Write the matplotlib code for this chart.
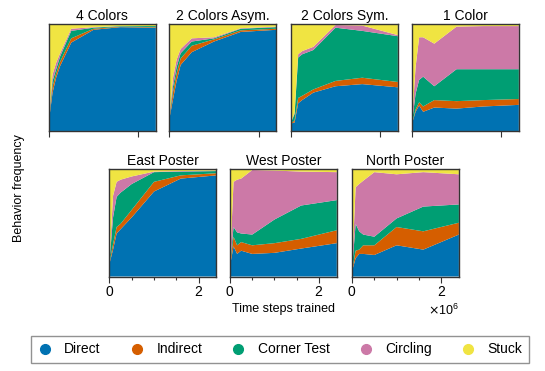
import matplotlib.pyplot as plt
import numpy as np
from matplotlib.lines import Line2D

plt.rcParams['font.family'] = ['Liberation Sans', 'DejaVu Sans']

## time steps where the agent was evaluated
t_steps = np.array([0, 0.08, 0.16, 0.25, 0.5, 1.0, 1.6, 2.4]) * 1e6

behaviors = ['Direct', 'Indirect', 'Corner Test', 'Circling', 'Stuck']
colors = ['#0072B2', '#D55E00', '#009E73', '#CC79A7', '#F0E442']

titles = ['4 Colors', '2 Colors Asym.', '2 Colors Sym.', '1 Color',
          'East Poster', 'West Poster', 'North Poster']

## cumulative tops of Direct, Indirect, Corner Test, Circling (Stuck fills up to 1)
cum_4col = [[0.10, 0.36, 0.50, 0.61, 0.83, 0.95, 0.975, 0.97],
            [0.11, 0.42, 0.54, 0.65, 0.87, 0.96, 0.980, 0.975],
            [0.12, 0.47, 0.58, 0.70, 0.94, 0.97, 0.985, 0.985],
            [0.13, 0.53, 0.64, 0.73, 0.96, 0.975, 0.985, 0.985]]
cum_2asym = [[0.12, 0.30, 0.47, 0.62, 0.74, 0.84, 0.93, 0.95],
             [0.13, 0.37, 0.54, 0.68, 0.80, 0.86, 0.945, 0.96],
             [0.14, 0.42, 0.60, 0.73, 0.84, 0.87, 0.96, 0.975],
             [0.15, 0.50, 0.67, 0.77, 0.87, 0.88, 0.965, 0.98]]
cum_2sym = [[0.07, 0.08, 0.26, 0.29, 0.36, 0.42, 0.44, 0.41],
            [0.075, 0.10, 0.31, 0.33, 0.39, 0.47, 0.50, 0.46],
            [0.08, 0.16, 0.69, 0.72, 0.76, 0.97, 0.94, 0.89],
            [0.085, 0.17, 0.72, 0.75, 0.79, 0.995, 0.99, 0.90]]
cum_1col = [[0.07, 0.18, 0.24, 0.18, 0.22, 0.21, 0.23, 0.245],
            [0.075, 0.20, 0.27, 0.23, 0.29, 0.28, 0.29, 0.30],
            [0.08, 0.35, 0.48, 0.51, 0.42, 0.58, 0.58, 0.58],
            [0.09, 0.60, 0.88, 0.88, 0.82, 0.98, 0.985, 0.985]]
cum_east = [[0.12, 0.25, 0.40, 0.44, 0.55, 0.79, 0.91, 0.94],
            [0.13, 0.30, 0.46, 0.49, 0.62, 0.88, 0.94, 0.96],
            [0.14, 0.55, 0.74, 0.78, 0.86, 0.97, 0.975, 0.98],
            [0.15, 0.75, 0.88, 0.90, 0.93, 0.975, 0.98, 0.985]]
cum_west = [[0.10, 0.28, 0.21, 0.24, 0.21, 0.22, 0.26, 0.31],
            [0.11, 0.37, 0.29, 0.32, 0.29, 0.31, 0.35, 0.43],
            [0.12, 0.46, 0.41, 0.40, 0.39, 0.53, 0.66, 0.71],
            [0.13, 0.88, 0.90, 0.91, 0.99, 0.985, 0.975, 0.97]]
cum_north = [[0.05, 0.17, 0.21, 0.21, 0.20, 0.29, 0.25, 0.39],
             [0.06, 0.24, 0.25, 0.29, 0.29, 0.46, 0.42, 0.50],
             [0.07, 0.49, 0.42, 0.39, 0.37, 0.54, 0.65, 0.67],
             [0.08, 0.83, 0.86, 0.89, 0.97, 0.95, 0.97, 0.95]]

all_cum = [cum_4col, cum_2asym, cum_2sym, cum_1col, cum_east, cum_west, cum_north]


def to_fractions(cum):
    ## cumulative tops -> per-behavior fractions
    c = np.vstack([np.zeros(len(t_steps)), np.array(cum), np.ones(len(t_steps))])
    return np.diff(c, axis=0)


fig = plt.figure(figsize=(5.45, 3.71), dpi=100)

## axes boxes [left, bottom, width, height] in figure fraction
w = 0.196
top_boxes = [[0.0899, 0.647, w, 0.287], [0.311, 0.647, w, 0.287],
             [0.534, 0.647, w, 0.287], [0.756, 0.647, w, 0.287]]
bot_boxes = [[0.2009, 0.2547, w, 0.29], [0.422, 0.2547, w, 0.29],
             [0.646, 0.2547, w, 0.29]]
boxes = top_boxes + bot_boxes

for i, (box, cum) in enumerate(zip(boxes, all_cum)):
    ax = fig.add_axes(box)
    ax.stackplot(t_steps, to_fractions(cum), colors=colors, linewidth=0)
    ax.set_xlim(0, 2.4e6)
    ax.set_ylim(0, 1)
    ax.set_yticks([])
    ax.set_xticks([0, 2e6])
    ax.set_title(titles[i], fontsize=10, pad=3)
    for s in ax.spines.values():
        s.set_color('#333333')
        s.set_linewidth(1.0)
    ax.tick_params(axis='x', direction='out', length=4, width=0.8, color='#333333',
                   labelsize=10, pad=2)
    if i < 4:
        ax.set_xticklabels([])
    else:
        ax.set_xticks([0.5e6, 1e6, 1.5e6], minor=True)
        ax.tick_params(axis='x', which='minor', length=2.5, width=0.8, color='#333333')
        ax.ticklabel_format(axis='x', style='sci', scilimits=(6, 6), useMathText=True)
        ax.xaxis.get_offset_text().set_fontsize(9)
        if i != 6:
            ax.xaxis.get_offset_text().set_visible(False)
    if i == 5:
        ax.set_xlabel('Time steps trained', fontsize=9, labelpad=3)

fig.text(0.034, 0.493, 'Behavior frequency', rotation=90, fontsize=9,
         ha='center', va='center')

## Legend
handles = [Line2D([], [], marker='o', linestyle='', color=c, markersize=7) for c in colors]
leg = fig.legend(handles, behaviors, loc='center', bbox_to_anchor=(0.514, 0.058),
                 ncol=5, fontsize=10, frameon=True, fancybox=False,
                 handlelength=1.0, handletextpad=0.9, columnspacing=2.1,
                 borderpad=0.5, borderaxespad=0.0)
leg.get_frame().set_edgecolor('#777777')
leg.get_frame().set_linewidth(1.0)

fig.savefig('out.png', dpi=100)
